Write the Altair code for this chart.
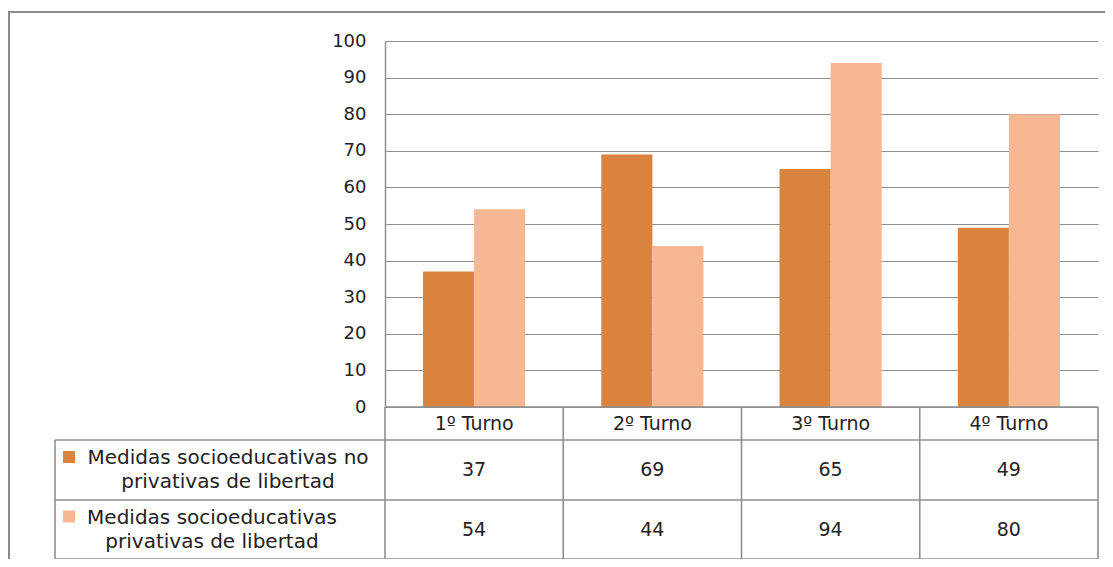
import altair as alt
import pandas as pd

categories = ["1º Turno", "2º Turno", "3º Turno", "4º Turno"]
series_names = [
    "Medidas socioeducativas no privativas de libertad",
    "Medidas socioeducativas privativas de libertad",
]
series_labels = [
    "Medidas socioeducativas no\nprivativas de libertad",
    "Medidas socioeducativas\nprivativas de libertad",
]
no_privativas = [37, 69, 65, 49]
privativas = [54, 44, 94, 80]
series_colors = ["#D9833F", "#F8B793"]

FONT = "DejaVu Sans"
TXT = "#222222"
LINE = "#8f8f8f"
W, H = 713, 366
STEP = W / 4

bars = pd.DataFrame(
    [{"cat": c, "serie": series_names[0], "value": v} for c, v in zip(categories, no_privativas)]
    + [{"cat": c, "serie": series_names[1], "value": v} for c, v in zip(categories, privativas)]
)

cells = pd.DataFrame(
    [{"cat": c, "row": 0.5, "label": c} for c in categories]
    + [{"cat": c, "row": 1.5, "label": str(v)} for c, v in zip(categories, no_privativas)]
    + [{"cat": c, "row": 2.5, "label": str(v)} for c, v in zip(categories, privativas)]
)

headers = pd.DataFrame({
    "row": [1.5, 2.5],
    "label": series_labels,
    "serie": series_names,
    "cx": [-157, -173],
})

row_scale = alt.Scale(domain=[0, 1, 2, 3], range=[H, H + 33, H + 93, H + 152], nice=False, zero=False)

xcat = alt.X("cat:N", sort=categories, axis=None,
             scale=alt.Scale(paddingInner=0, paddingOuter=0))

bar_layer = alt.Chart(bars).mark_bar().encode(
    x=xcat,
    xOffset=alt.XOffset("serie:N", sort=series_names,
                        scale=alt.Scale(paddingInner=0, paddingOuter=0.745)),
    y=alt.Y("value:Q", scale=alt.Scale(domain=[0, 100], nice=False),
            axis=alt.Axis(values=list(range(0, 101, 10)), grid=True, gridColor=LINE,
                          gridWidth=1.2, domainColor=LINE, domainWidth=1.5, ticks=False,
                          labelPadding=19, labelFont=FONT, labelFontSize=18,
                          labelColor=TXT, title=None)),
    color=alt.Color("serie:N", sort=series_names,
                    scale=alt.Scale(domain=series_names, range=series_colors), legend=None),
)

# table structure
hlines = pd.DataFrame({"row": [0, 1, 2, 3], "x0": [0, -330, -330, -330]})
hrule = alt.Chart(hlines).mark_rule(color=LINE, strokeWidth=1.6).encode(
    y=alt.Y("row:Q", scale=row_scale, axis=None),
    x=alt.X("x0:Q", scale=None),
    x2=alt.value(W),
)
vlines = pd.DataFrame({"xp": [-330] + [i * STEP for i in range(5)],
                       "r0": [1] + [0] * 5})
vrule = alt.Chart(vlines).mark_rule(color=LINE, strokeWidth=1.6).encode(
    x=alt.X("xp:Q", scale=None),
    y=alt.Y("r0:Q", scale=row_scale, axis=None),
    y2=alt.Y2(datum=3),
)

cell_text = alt.Chart(cells).mark_text(font=FONT, fontSize=19, color=TXT, baseline="middle").encode(
    x=xcat,
    y=alt.Y("row:Q", scale=row_scale, axis=None),
    text="label:N",
)

head_text = alt.Chart(headers).mark_text(font=FONT, fontSize=20, color=TXT, baseline="middle",
                                          align="center", lineBreak="\n", lineHeight=24,
                                          dy=-12).encode(
    x=alt.X("cx:Q", scale=None),
    y=alt.Y("row:Q", scale=row_scale, axis=None),
    text="label:N",
)

markers = alt.Chart(headers).mark_square(size=144, opacity=1).encode(
    x=alt.value(-316),
    y=alt.Y("row:Q", scale=row_scale, axis=None),
    yOffset=alt.value(-13),
    color=alt.Color("serie:N", scale=alt.Scale(domain=series_names, range=series_colors), legend=None),
)

frame = alt.Chart(pd.DataFrame({"a": [0]})).mark_rect(fill=None, stroke="#8a8a8a", strokeWidth=2).encode(
    x=alt.value(-376), x2=alt.value(760), y=alt.value(-29), y2=alt.value(620),
)

chart = alt.layer(frame, bar_layer, hrule, vrule, cell_text, head_text, markers).resolve_scale(
    y="independent", color="independent"
).properties(
    width=W, height=H,
    autosize=alt.AutoSizeParams(type="none"),
    padding={"left": 377, "top": 33, "right": 7, "bottom": 152},
    background="white",
).configure_view(stroke=None)

chart.save("out.html", embed_options={"renderer": "svg", "actions": False})
